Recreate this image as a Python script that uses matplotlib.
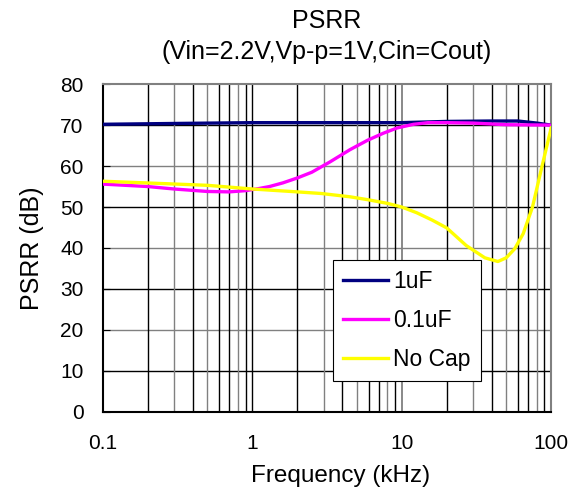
import numpy as np
import matplotlib.pyplot as plt
from matplotlib.ticker import FixedLocator, NullFormatter

plt.rcParams['font.family'] = ['Liberation Sans', 'DejaVu Sans']

# 1uF
f_1u = [0.1, 0.3, 1, 3, 10, 20, 40, 60, 80, 100]
p_1u = [70.2, 70.4, 70.6, 70.6, 70.6, 70.9, 71.0, 71.0, 70.5, 70.0]

# 0.1uF
f_01u = [0.1, 0.2, 0.3, 0.5, 0.7, 0.9, 1.1, 1.3, 1.6, 2.0, 2.5, 3.3, 4.5, 5.9, 7.5,
         9.3, 12, 15, 20, 30, 50, 100]
p_01u = [55.6, 55.0, 54.4, 53.8, 53.7, 54.0, 54.5, 55.0, 55.9, 57.1, 58.5, 61.0,
         64.0, 66.3, 68.0, 69.3, 70.2, 70.6, 70.6, 70.5, 70.1, 70.0]

# No Cap
f_nc = [0.1, 0.5, 1, 2, 2.9, 4.5, 5.9, 8, 10, 12.6, 16, 20, 27, 36, 44, 50, 57,
        65, 75, 85, 100]
p_nc = [56.3, 55.3, 54.4, 53.7, 53.3, 52.5, 51.8, 50.9, 50.0, 48.6, 46.8, 44.9,
        40.6, 37.6, 36.7, 37.6, 39.8, 43.5, 50.0, 58.5, 69.3]

fig = plt.figure(figsize=(5.82, 4.95), dpi=100)
ax = fig.add_axes([0.177, 0.168, 0.770, 0.662])

ax.set_xscale('log')
ax.set_xlim(0.1, 100)
ax.set_ylim(0, 80)

# grid, alternating black / grey like the original sheet
for y in range(10, 80, 10):
    ax.axhline(y, color='black' if (y // 10) % 2 else '#808080', lw=1.0, zorder=1)
for dec in [0.1, 1, 10]:
    for k in range(2, 10):
        c = '#808080' if k in (3, 5, 8) else 'black'
        ax.axvline(dec * k, color=c, lw=1.0, zorder=1)
ax.axvline(1, color='black', lw=1.0, zorder=1)
ax.axvline(10, color='#808080', lw=1.3, zorder=1)

ax.plot(f_1u, p_1u, color='#000080', lw=2.4, label='1uF', zorder=3)
ax.plot(f_01u, p_01u, color='#FF00FF', lw=2.4, label='0.1uF', zorder=3)
ax.plot(f_nc, p_nc, color='#FFFF00', lw=2.4, label='No Cap', zorder=3)

ax.xaxis.set_major_locator(FixedLocator([0.1, 1, 10, 100]))
ax.set_xticklabels(['0.1', '1', '10', '100'])
ax.xaxis.set_minor_formatter(NullFormatter())
ax.tick_params(axis='x', which='both', length=0, labelsize=15, pad=16)
ax.set_yticks(range(0, 81, 10))
ax.tick_params(axis='y', length=5, direction='in', labelsize=15, pad=14)

for s in ['top', 'right']:
    ax.spines[s].set_color('#808080')
    ax.spines[s].set_linewidth(1.5)
for s in ['left', 'bottom']:
    ax.spines[s].set_linewidth(1.5)

ax.set_xlabel('Frequency (kHz)', fontsize=17.5)
ax.xaxis.set_label_coords(0.53, -0.163, transform=ax.transAxes)
ax.set_ylabel('PSRR (dB)', fontsize=18, labelpad=12)
fig.text(0.562, 1 - 21 / 495, 'PSRR', fontsize=18, ha='center', va='center')
fig.text(0.562, 1 - 52 / 495, '(Vin=2.2V,Vp-p=1V,Cin=Cout)', fontsize=18,
         ha='center', va='center')

leg = ax.legend(loc='lower left', bbox_to_anchor=(0.513, 0.095), fontsize=16.5,
                fancybox=False, framealpha=1, edgecolor='black', handlelength=2.0,
                borderpad=0.42, labelspacing=0.7, handletextpad=0.22,
                borderaxespad=0)
leg.get_frame().set_linewidth(0.8)
leg.set_zorder(5)

fig.savefig('out.png', dpi=100)
